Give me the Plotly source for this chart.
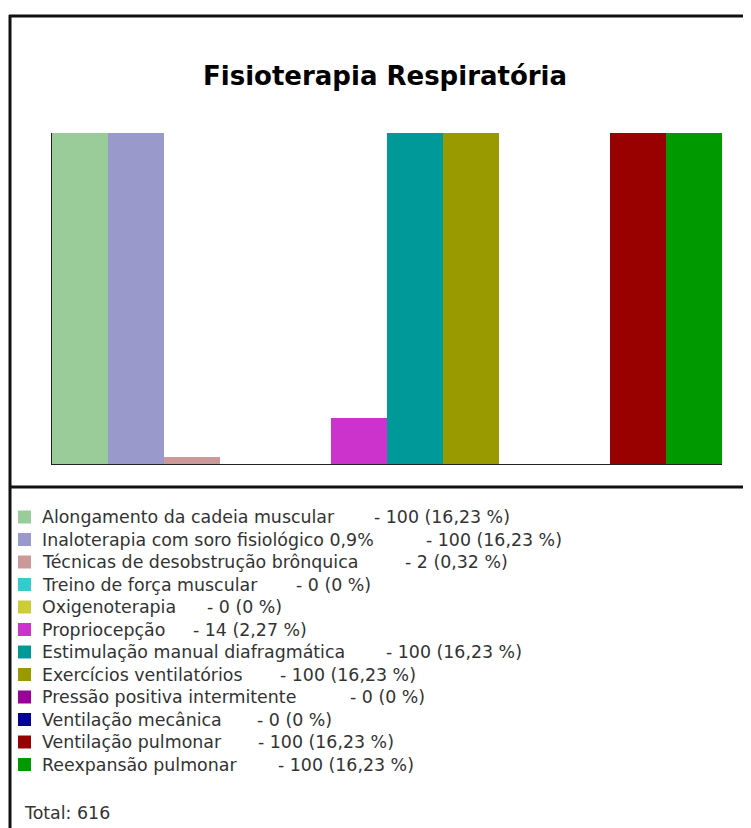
import plotly.graph_objects as go

# ---- data ----
categories = [
    "Alongamento da cadeia muscular",
    "Inaloterapia com soro fisiológico 0,9%",
    "Técnicas de desobstrução brônquica",
    "Treino de força muscular",
    "Oxigenoterapia",
    "Propriocepção",
    "Estimulação manual diafragmática",
    "Exercícios ventilatórios",
    "Pressão positiva intermitente",
    "Ventilação mecânica",
    "Ventilação pulmonar",
    "Reexpansão pulmonar",
]
values = [100, 100, 2, 0, 0, 14, 100, 100, 0, 0, 100, 100]
colors = ["#99CC99", "#9999CC", "#CC9999", "#33CCCC", "#CCCC33", "#CC33CC",
          "#009999", "#999900", "#990099", "#000099", "#990000", "#009900"]
title_text = "Fisioterapia Respiratória"

# ---- layout helpers (pixel geometry, in screenshot coordinates) ----
OFF = 8  # page body margin
W, H = 751 - OFF, 828 - OFF
PL, PR, PT, PB = 52, 722, 133, 464  # plot area in screenshot pixels


def px(x):
    return (x - PL) / (PR - PL)


def py(y):
    return (PB - y) / (PB - PT)


total = sum(values)


def fmt_pct(v):
    if v == 0:
        return "0 %"
    return f"{v / total * 100:.2f}".replace(".", ",") + " %"


value_cx = [442, 494, 456, 333, 245, 250, 454, 348, 387, 294, 326, 346]
legend_y0, legend_step = 517, 22.5
FONT = "DejaVu Sans"
TXT = "#333333"

fig = go.Figure()
fig.add_trace(go.Bar(
    x=categories, y=values,
    marker=dict(color=colors, line=dict(width=0)),
    showlegend=False, hoverinfo="x+y",
))

shapes = []
annotations = []

# frame lines
shapes.append(dict(type="line", xref="paper", yref="paper",
                   x0=px(10), x1=px(10), y0=py(15), y1=py(840),
                   line=dict(color="#111111", width=3)))
shapes.append(dict(type="line", xref="paper", yref="paper",
                   x0=px(9), x1=px(770), y0=py(16), y1=py(16),
                   line=dict(color="#111111", width=3)))
shapes.append(dict(type="line", xref="paper", yref="paper",
                   x0=px(9), x1=px(770), y0=py(487), y1=py(487),
                   line=dict(color="#111111", width=3)))

# title
annotations.append(dict(text=f"<b>{title_text}</b>", xref="paper", yref="paper",
                        x=px(385), y=py(76), xanchor="center", yanchor="middle",
                        showarrow=False,
                        font=dict(family=FONT, size=26, color="#000000")))

# legend
for i, (cat, v, c) in enumerate(zip(categories, values, colors)):
    yc = legend_y0 + i * legend_step
    shapes.append(dict(type="rect", xref="paper", yref="paper",
                       x0=px(18), x1=px(31), y0=py(yc - 6.5), y1=py(yc + 6.5),
                       fillcolor=c, line=dict(width=0)))
    annotations.append(dict(text=cat, xref="paper", yref="paper",
                            x=px(40), y=py(yc), xanchor="left", yanchor="middle",
                            showarrow=False,
                            font=dict(family=FONT, size=17.4, color=TXT)))
    annotations.append(dict(text=f"- {v} ({fmt_pct(v)})", xref="paper", yref="paper",
                            x=px(value_cx[i]), y=py(yc), xanchor="center", yanchor="middle",
                            showarrow=False,
                            font=dict(family=FONT, size=17.4, color=TXT)))

annotations.append(dict(text=f"Total: {total}", xref="paper", yref="paper",
                        x=px(22), y=py(813), xanchor="left", yanchor="middle",
                        showarrow=False,
                        font=dict(family=FONT, size=17.4, color=TXT)))

fig.update_layout(
    width=W, height=H,
    margin=dict(l=PL - OFF, r=(W + OFF) - PR, t=PT - OFF, b=(H + OFF) - PB, pad=0),
    paper_bgcolor="white", plot_bgcolor="white",
    bargap=0,
    shapes=shapes, annotations=annotations,
    xaxis=dict(showticklabels=False, showgrid=False, zeroline=False, ticks="",
               showline=True, linecolor="#222222", linewidth=1),
    yaxis=dict(range=[0, 100], showticklabels=False, showgrid=False, zeroline=False,
               ticks="", showline=True, linecolor="#222222", linewidth=1),
)

fig.write_html("out.html")
